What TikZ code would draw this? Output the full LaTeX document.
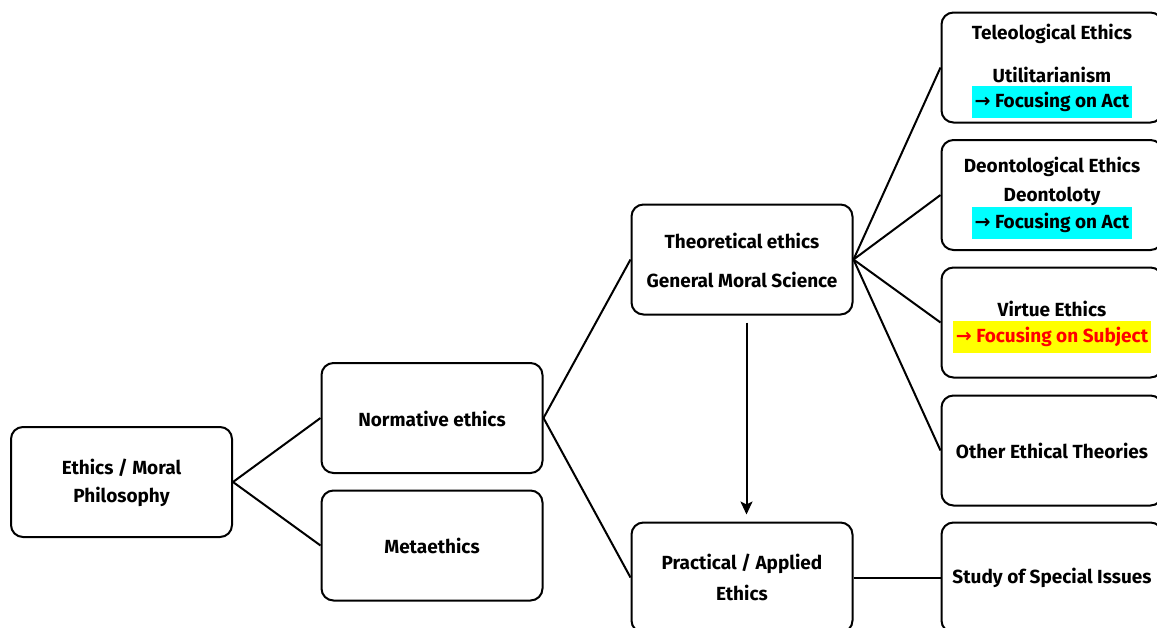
\documentclass[tikz,border=0pt]{standalone}
\usepackage{fontspec}
\setmainfont{Fira Sans}
\newfontfamily\arrowfont{DejaVu Sans}
\usetikzlibrary{arrows.meta}
\definecolor{hlcyan}{HTML}{00FFFF}
\definecolor{hlyellow}{HTML}{FFFF00}
\definecolor{hlred}{HTML}{FF0000}
\newcommand{\rarr}{{\arrowfont →}}
\tikzset{
  box/.style={draw=black, line width=2pt, rounded corners=12pt,
    minimum width=221pt, minimum height=110pt, inner sep=0pt},
  lbl/.style={font=\bfseries\fontsize{19}{21}\selectfont, inner sep=0pt, anchor=center},
  hl/.style={lbl, inner xsep=3pt, minimum height=32pt},
  link/.style={line width=2pt},
}
\begin{document}
\begin{tikzpicture}[x=1pt, y=-1pt]
\useasboundingbox (0,0) rectangle (1157,627);
\clip (0,0) rectangle (1157,627);

% boxes
\node[box] (eth)  at (121.5,482) {};
\node[box] (norm) at (432,418) {};
\node[box] (meta) at (432,545.5) {};
\node[box] (theo) at (742,259.5) {};
\node[box] (prac) at (742,577.5) {};
\node[box] (tele) at (1052,67.5) {};
\node[box] (deon) at (1052,195) {};
\node[box] (virt) at (1052,322.5) {};
\node[box] (oth)  at (1052,450.5) {};
\node[box] (stud) at (1052,577.5) {};

% labels
\node[lbl] (t1) at (121.5,468) {Ethics / Moral};
\node[lbl] (t2) at (121.5,497) {Philosophy};
\node[lbl] (t3) at (432,419) {Normative ethics};
\node[lbl] (t4) at (432,546) {Metaethics};
\node[lbl] (t5) at (742,241) {Theoretical ethics};
\node[lbl] (t6) at (742,280) {General Moral Science};
\node[lbl] (t7) at (742,564) {Practical / Applied};
\node[lbl] (t8) at (742,593) {Ethics};
\node[lbl] (t9) at (1052,34) {Teleological Ethics};
\node[lbl] (t10) at (1052,75) {Utilitarianism};
\node[hl, fill=hlcyan] (t11) at (1052,102) {\rarr\ Focusing on Act};
\node[lbl] (t12) at (1052,167) {Deontological Ethics};
\node[lbl] (t13) at (1052,196) {Deontoloty};
\node[hl, fill=hlcyan] (t14) at (1052,223) {\rarr\ Focusing on Act};
\node[lbl] (t15) at (1052,309) {Virtue Ethics};
\node[hl, fill=hlyellow, text=hlred] (t16) at (1052,336.5) {\rarr\ Focusing on Subject};
\node[lbl] (t17) at (1052,451) {Other Ethical Theories};
\node[lbl] (t18) at (1052,578) {Study of Special Issues};

% connectors
\draw[link] (eth.east) -- (norm.west);
\draw[link] (eth.east) -- (meta.west);
\draw[link] (norm.east) -- (theo.west);
\draw[link] (norm.east) -- (prac.west);
\draw[link] (theo.east) -- (tele.west);
\draw[link] (theo.east) -- (deon.west);
\draw[link] (theo.east) -- (virt.west);
\draw[link] (theo.east) -- (oth.west);
\draw[link] (prac.east) -- (stud.west);
\draw[link, -{Stealth[length=13pt, width=12pt, inset=3pt]}, shorten <=7pt, shorten >=7pt]
  ([xshift=4.5pt]theo.south) -- ([xshift=4.5pt]prac.north);
\end{tikzpicture}
\end{document}
